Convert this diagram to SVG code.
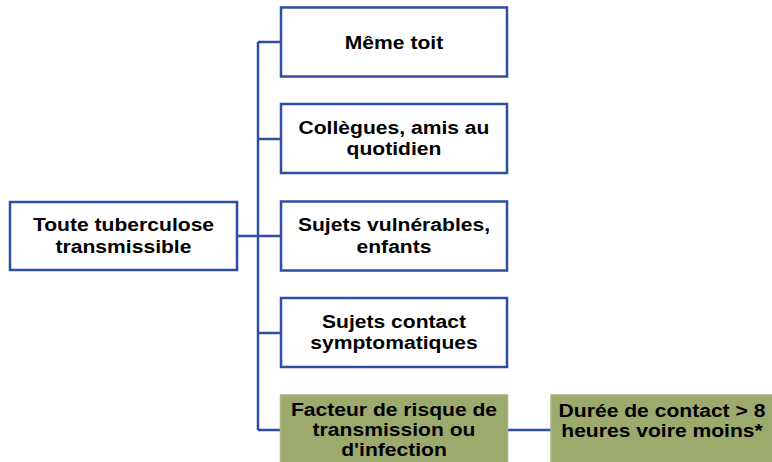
<svg xmlns="http://www.w3.org/2000/svg" width="772" height="462" viewBox="0 0 772 462">
<style>
.box{fill:#fff;stroke:#2E4DA3;stroke-width:2.5}
.gbox{fill:#9CAA6E;stroke:#A9B57C;stroke-width:1.5}
.t{font-family:"Liberation Sans",Arial,sans-serif;font-weight:bold;font-size:18.5px;fill:#000;text-anchor:middle}
.c{fill:none;stroke:#2E4DA3;stroke-width:2.5}
</style>
<rect width="772" height="462" fill="#fff"/>
<g id="connectors">
<path class="c" d="M258 42V430M237 236H258M258 42H281M258 139H281M258 236H281M258 333H281M258 430H281M507 430H551"/>
</g>
<g id="n0">
<rect class="box" x="10" y="202" width="227" height="68"/>
<text class="t" transform="translate(123.5 0) scale(1.14 1)"><tspan x="0" y="231.5">Toute tuberculose</tspan><tspan x="0" y="253">transmissible</tspan></text>
</g>
<g id="n1">
<rect class="box" x="281" y="7.5" width="226" height="69"/>
<text class="t" transform="translate(394 0) scale(1.14 1)"><tspan x="0" y="49">Même toit</tspan></text>
</g>
<g id="n2">
<rect class="box" x="281" y="104" width="226" height="69"/>
<text class="t" transform="translate(394 0) scale(1.14 1)"><tspan x="0" y="134">Collègues, amis au</tspan><tspan x="0" y="155.5">quotidien</tspan></text>
</g>
<g id="n3">
<rect class="box" x="281" y="201.5" width="226" height="69"/>
<text class="t" transform="translate(394 0) scale(1.14 1)"><tspan x="0" y="231.5">Sujets vulnérables,</tspan><tspan x="0" y="253">enfants</tspan></text>
</g>
<g id="n4">
<rect class="box" x="281" y="298" width="226" height="69"/>
<text class="t" transform="translate(394 0) scale(1.14 1)"><tspan x="0" y="328">Sujets contact</tspan><tspan x="0" y="349.5">symptomatiques</tspan></text>
</g>
<g id="n5">
<rect class="gbox" x="280.5" y="395" width="227" height="72"/>
<text class="t" transform="translate(394 0) scale(1.14 1)"><tspan x="0" y="416.5">Facteur de risque de</tspan><tspan x="0" y="436.5">transmission ou</tspan><tspan x="0" y="456.5">d'infection</tspan></text>
</g>
<g id="n6">
<rect class="gbox" x="551" y="395" width="226" height="72"/>
<text class="t" transform="translate(662 0) scale(1.14 1)"><tspan x="0" y="417">Durée de contact &gt; 8</tspan><tspan x="0" y="437.5">heures voire moins*</tspan></text>
</g>
</svg>
